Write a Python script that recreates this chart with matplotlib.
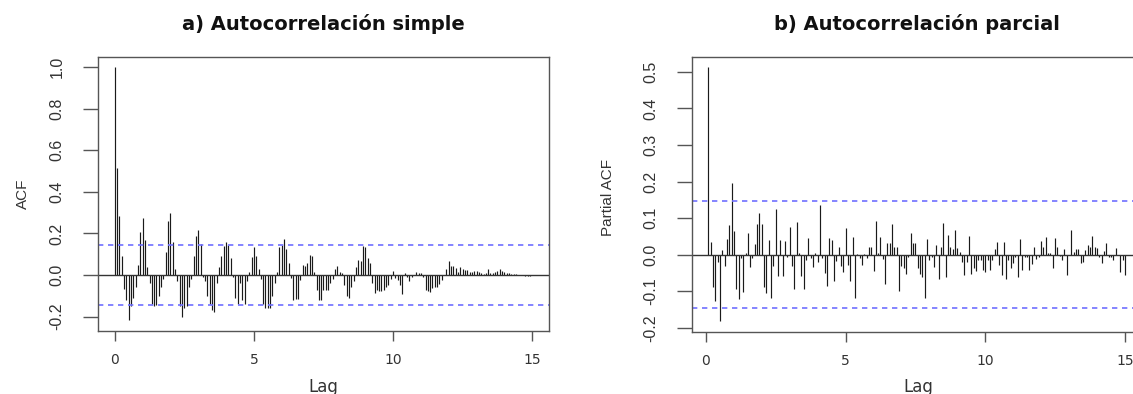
import numpy as np
import matplotlib
matplotlib.use("Agg")
import matplotlib.pyplot as plt

plt.rcParams['axes.unicode_minus'] = False
plt.rcParams['font.family'] = ['DejaVu Sans']

# monthly series, lags in years (frequency 12)
freq = 12
n_obs = 180

acf_vals = [
    1.0, 0.514, 0.286, 0.093, -0.069, -0.12, -0.217, -0.15, -0.11, -0.06,
    0.05, 0.209, 0.273, 0.17, 0.04, -0.04, -0.14, -0.15, -0.145, -0.10,
    -0.06, -0.02, 0.11, 0.26, 0.297, 0.16, 0.03, -0.03, -0.15, -0.20,
    -0.16, -0.15, -0.06, -0.02, 0.09, 0.19, 0.217, 0.15, -0.01, -0.03,
    -0.10, -0.14, -0.17, -0.18, -0.04, 0.04, 0.09, 0.14, 0.157, 0.145,
    0.08, -0.01, -0.11, -0.14, -0.04, -0.12, -0.14, -0.03, 0.016, 0.085,
    0.136, 0.09, 0.03, -0.02, -0.14, -0.16, -0.16, -0.16, -0.10, -0.04,
    0.016, 0.136, 0.145, 0.172, 0.124, 0.06, -0.016, -0.12, -0.117, -0.117,
    -0.024, 0.05, 0.043, 0.056, 0.096, 0.09, 0.016, -0.07, -0.12, -0.12,
    -0.07, -0.07, -0.07, -0.04, -0.02, 0.03, 0.043, 0.016, 0.011, -0.05,
    -0.10, -0.11, -0.056, -0.03, 0.037, 0.07, 0.067, 0.14, 0.136, 0.08,
    0.056, -0.04, -0.085, -0.07, -0.075, -0.075, -0.07, -0.06, -0.05, -0.02,
    0.02, -0.016, -0.024, -0.05, -0.09, 0.01, -0.008, -0.03, -0.008, 0.0,
    0.016, 0.011, 0.011, -0.008, -0.07, -0.075, -0.08, -0.064, -0.06, -0.056,
    -0.043, -0.024, 0.0, 0.027, 0.066, 0.043, 0.043, 0.032, 0.016, 0.04,
    0.027, 0.024, 0.024, 0.014, 0.016, 0.021, 0.021, 0.016, 0.008, 0.005,
    0.011, 0.03, 0.011, 0.008, 0.014, 0.021, 0.027, 0.018, 0.016, 0.011,
    0.008, 0.006, 0.005, 0.003, 0.002, 0.001, 0.0, -0.003, -0.005, -0.004,
    -0.002,
]

pacf_vals = [
    0.512, 0.036, -0.089, -0.126, -0.02, -0.18, 0.012, -0.03, 0.042, 0.08,
    0.197, 0.064, -0.093, -0.122, -0.01, -0.103, 0.005, 0.06, -0.033, -0.01,
    0.03, 0.085, 0.115, 0.085, -0.087, -0.104, 0.04, -0.117, -0.031, 0.125,
    -0.058, 0.04, -0.058, 0.038, -0.005, 0.077, -0.031, -0.093, 0.09, 0.005,
    -0.058, -0.095, -0.015, 0.045, -0.01, -0.033, 0.005, -0.02, 0.136, -0.01,
    -0.05, -0.085, 0.045, 0.04, -0.072, -0.016, 0.02, -0.031, -0.046, 0.072,
    -0.028, -0.071, 0.049, -0.117, 0.002, -0.01, -0.028, 0.002, -0.008, 0.022,
    0.022, -0.044, 0.093, 0.005, 0.049, -0.013, -0.08, 0.031, 0.031, 0.084,
    0.022, 0.02, -0.1, -0.031, -0.037, -0.053, -0.007, 0.058, 0.033, 0.031,
    -0.037, -0.054, -0.06, -0.117, 0.042, -0.015, -0.005, -0.033, 0.026, -0.065,
    0.02, 0.087, -0.062, 0.054, 0.02, 0.015, 0.067, 0.017, 0.008, -0.019,
    -0.056, -0.019, 0.051, -0.053, -0.035, -0.045, -0.015, -0.015, -0.042, -0.046,
    -0.015, -0.042, -0.015, 0.015, 0.036, -0.028, -0.056, 0.036, -0.065, -0.015,
    -0.035, -0.024, -0.007, -0.062, 0.042, -0.042, -0.005, -0.005, -0.042, -0.025,
    0.02, -0.013, -0.007, 0.038, 0.02, 0.049, 0.005, 0.004, -0.035, 0.047,
    0.02, -0.004, -0.015, 0.015, -0.056, -0.001, 0.067, 0.008, 0.015, 0.015,
    -0.024, -0.019, 0.013, 0.026, 0.02, 0.051, 0.022, 0.017, -0.007, -0.022,
    0.011, 0.031, -0.005, -0.005, -0.015, 0.017, -0.001, -0.046, -0.015, -0.056,
]

acf_lags = np.arange(len(acf_vals)) / freq
pacf_lags = np.arange(1, len(pacf_vals) + 1) / freq
clim = 1.96 / np.sqrt(n_obs)

titles = ['a) Autocorrelación simple', 'b) Autocorrelación parcial']
ylabels = ['ACF', 'Partial ACF']
xticks = [0, 5, 10, 15]
acf_yticks = [-0.2, 0.0, 0.2, 0.4, 0.6, 0.8, 1.0]
pacf_yticks = [-0.2, -0.1, 0.0, 0.1, 0.2, 0.3, 0.4, 0.5]

narrow = ['Liberation Sans Narrow', 'Liberation Sans']
frame_col = '#555555'
text_col = '#333333'

fig = plt.figure(figsize=(11.33, 3.94), dpi=100)
ax1 = fig.add_axes([0.0865, 0.1599, 0.398, 0.6947])
ax2 = fig.add_axes([0.6105, 0.1581, 0.3971, 0.6964])

panels = [
    (ax1, acf_lags, acf_vals, acf_yticks, (-0.6, 15.6), (-0.2696, 1.048)),
    (ax2, pacf_lags, pacf_vals, pacf_yticks, (-0.51, 15.6), (-0.2104, 0.5394)),
]

for i, (ax, lags, vals, yt, xl, yl) in enumerate(panels):
    ax.vlines(lags, 0, vals, color='#1a1a1a', lw=0.85)
    ax.axhline(0, color='#333333', lw=1.0)
    for c in (clim, -clim):
        ax.axhline(c, color='#6f6fff', lw=1.2, linestyle=(0, (3.2, 2.8)))
    ax.set_xlim(*xl)
    ax.set_ylim(*yl)
    ax.set_xticks(xticks)
    ax.set_yticks(yt)
    ax.set_yticklabels(['%.1f' % v for v in yt], rotation=90, va='center',
                       family=narrow, fontsize=11.5, color=text_col)
    ax.tick_params(axis='x', length=7, width=1, color=frame_col, pad=9,
                   labelsize=10, labelcolor=text_col)
    ax.tick_params(axis='y', length=11, width=1, color=frame_col, pad=13)
    for s in ax.spines.values():
        s.set_color(frame_col)
        s.set_linewidth(1.0)
    ax.set_title(titles[i], fontsize=14, fontweight='bold', pad=19.5,
                 color='#111111')

fig.text(0.0199, 0.508, ylabels[0], rotation=90, ha='center', va='center',
         family=narrow, fontsize=11, color=text_col)
fig.text(0.537, 0.50, ylabels[1], rotation=90, ha='center', va='center',
         family=narrow, fontsize=11, color=text_col)
fig.text(0.2855, 0.006, 'Lag', ha='center', va='baseline', fontsize=12,
         color=text_col)
fig.text(0.8102, 0.006, 'Lag', ha='center', va='baseline', fontsize=12,
         color=text_col)

fig.savefig('out.png', dpi=100)
